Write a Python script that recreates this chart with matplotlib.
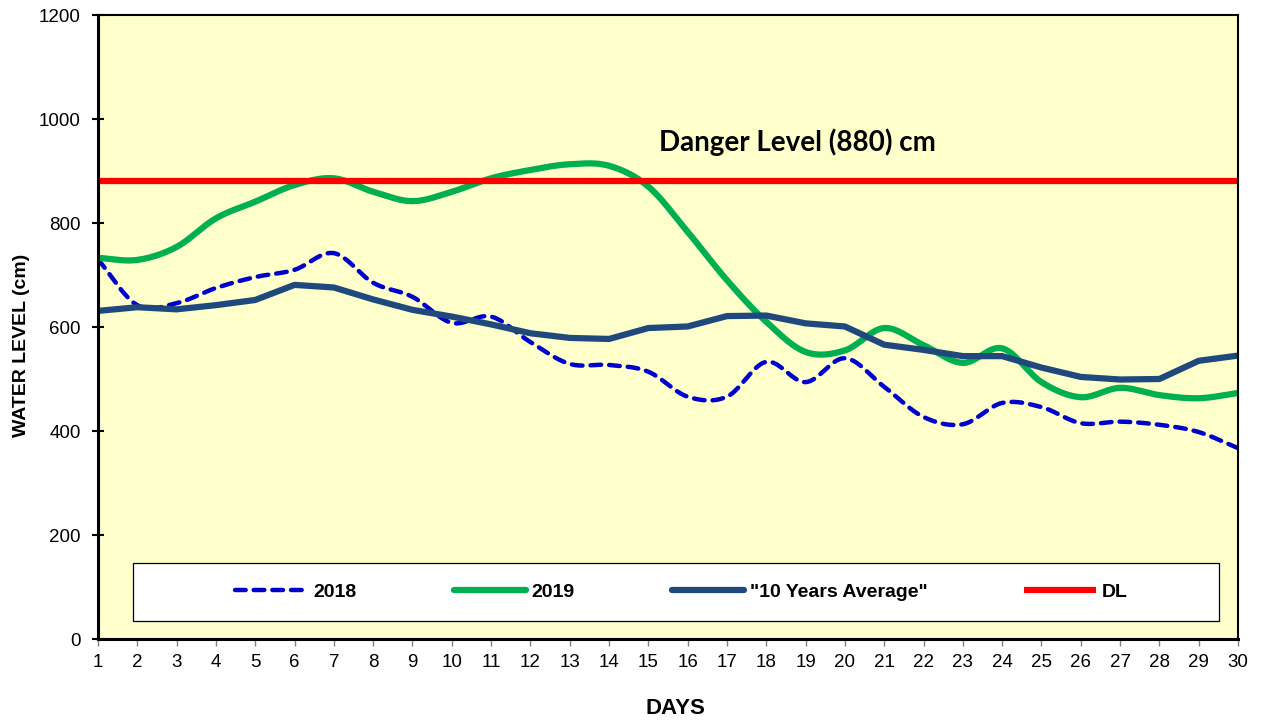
import matplotlib
matplotlib.use("Agg")
import matplotlib.pyplot as plt
from matplotlib.patches import Rectangle
import numpy as np

# daily water levels (cm)
days = list(range(1, 31))
level_2018 = [730, 642, 646, 675, 696, 710, 742, 685, 658, 608,
              620, 571, 529, 527, 514, 466, 466, 533, 494, 540,
              485, 427, 413, 454, 446, 415, 418, 412, 398, 367]
level_2019 = [733, 729, 754, 809, 841, 873, 886, 860, 842, 860,
              886, 902, 913, 910, 870, 783, 690, 610, 552, 555,
              598, 565, 531, 559, 494, 465, 483, 469, 463, 473]
avg_10yr = [631, 638, 634, 642, 652, 681, 676, 653, 633, 620,
            605, 588, 579, 577, 598, 601, 621, 622, 607, 601,
            566, 556, 544, 544, 522, 504, 499, 500, 535, 545]
danger_level = 880


# smoothed line like the spreadsheet "smoothed line" option (Catmull-Rom)
def smooth(x, y, n=20):
    x = np.asarray(x, float)
    y = np.asarray(y, float)
    px = np.concatenate([[2 * x[0] - x[1]], x, [2 * x[-1] - x[-2]]])
    py = np.concatenate([[2 * y[0] - y[1]], y, [2 * y[-1] - y[-2]]])
    xs, ys = [], []
    t = np.linspace(0, 1, n, endpoint=False)
    for i in range(1, len(px) - 2):
        for arr, out in ((px, xs), (py, ys)):
            p0, p1, p2, p3 = arr[i - 1], arr[i], arr[i + 1], arr[i + 2]
            out.extend(0.5 * (2 * p1 + (-p0 + p2) * t
                              + (2 * p0 - 5 * p1 + 4 * p2 - p3) * t ** 2
                              + (-p0 + 3 * p1 - 3 * p2 + p3) * t ** 3))
    xs.append(x[-1])
    ys.append(y[-1])
    return xs, ys


plt.rcParams['font.family'] = ['Liberation Sans', 'DejaVu Sans']

fig = plt.figure(figsize=(12.62, 7.22), dpi=100)
ax = fig.add_axes([98 / 1262, 83 / 722, 1140 / 1262, 624 / 722])
ax.set_facecolor('#FFFFCC')

x18, y18 = smooth(days, level_2018)
x19, y19 = smooth(days, level_2019)
ax.plot(x18, y18, color='#0000CC', lw=3.2, ls=(0, (2.4, 1.8)),
        dash_capstyle='round', label='2018')
ax.plot(x19, y19, color='#00B050', lw=4.5, solid_capstyle='round', label='2019')
ax.plot(days, avg_10yr, color='#1F497D', lw=4.5, solid_capstyle='round',
        label='"10 Years Average"')
ax.plot([days[0], days[-1]], [danger_level] * 2, color='#FF0000', lw=4.5,
        solid_capstyle='butt', label='DL')

# annotation, placed at day ~18.8 / 956 cm
ax.text(18.8, 956, 'Danger Level (880) cm', fontsize=20, fontweight='bold',
        family=['Lato', 'DejaVu Sans'], ha='center', va='center')

ax.set_xlim(1, 30)
ax.set_ylim(0, 1200)
ax.set_xticks(days)
ax.set_yticks(range(0, 1201, 200))
ax.tick_params(axis='y', direction='inout', length=9, width=1.5, labelsize=13.5, pad=8)
ax.tick_params(axis='x', direction='out', length=5, width=1, color='#808080', labelsize=13.5, pad=6)
for s in ax.spines.values():
    s.set_linewidth(1.5)
ax.spines['left'].set_linewidth(2.2)
ax.spines['bottom'].set_linewidth(2.2)

fig.text(675 / 1262, 1 - 709 / 722, 'DAYS', fontsize=16, fontweight='bold',
         ha='center', va='center')
fig.text(22 / 1262, 1 - 345 / 722, 'WATER LEVEL (cm)', fontsize=14,
         fontweight='bold', rotation=90, ha='center', va='center')

# legend box
ax.add_patch(Rectangle((35 / 1140, 18 / 624), 1086 / 1140, 58 / 624,
                       transform=ax.transAxes, facecolor='white',
                       edgecolor='black', lw=0.9, zorder=4))
leg = ax.legend(loc='center', bbox_to_anchor=(0.512, 0.0753), ncol=4,
                frameon=False, handlelength=3.7, handletextpad=0.3,
                columnspacing=5.0, borderpad=0, borderaxespad=0,
                prop={'weight': 'bold', 'size': 14})
leg.set_zorder(5)

fig.savefig('out.png', dpi=100)
